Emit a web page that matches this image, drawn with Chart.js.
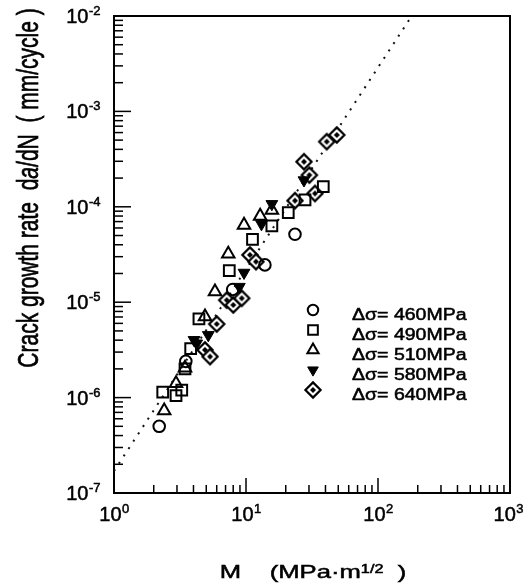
<!DOCTYPE html>
<html>
<head>
<meta charset="utf-8">
<script src="https://cdn.jsdelivr.net/npm/chart.js@4.4.1/dist/chart.umd.min.js"></script>
<style>
  html, body { margin: 0; padding: 0; background: #fff; }
  canvas { display: block; }
</style>
</head>
<body>
<canvas id="c" width="524" height="588" style="width:524px;height:588px"></canvas>
<script>
// ---------------- data ----------------
const seriesLabels = ['Δσ= 460MPa', 'Δσ= 490MPa', 'Δσ= 510MPa', 'Δσ= 580MPa', 'Δσ= 640MPa'];

const m460 = [2.2, 3.5, 7.93, 13.9, 23.5];
const r460 = [5.0e-7, 2.4e-6, 1.36e-5, 2.46e-5, 5.15e-5];

const m490 = [2.34, 2.95, 3.26, 3.45, 3.81, 4.40, 7.47, 11.2, 15.7, 20.9, 28.0, 38.5];
const r490 = [1.14e-6, 1.05e-6, 1.2e-6, 2.0e-6, 3.26e-6, 6.7e-6, 2.14e-5, 4.56e-5, 6.3e-5, 8.67e-5, 1.18e-4, 1.63e-4];

const m510 = [2.40, 2.95, 3.45, 4.89, 5.82, 7.34, 9.66, 12.8, 15.7];
const r510 = [7.3e-7, 1.41e-6, 2.05e-6, 7.05e-6, 1.29e-5, 3.2e-5, 6.44e-5, 8.0e-5, 9.25e-5];

const m580 = [4.04, 4.23, 5.18, 8.9, 9.66, 13.1, 15.7, 27.5];
const r580 = [4.02e-6, 3.7e-6, 4.53e-6, 1.45e-5, 2.04e-5, 6.6e-5, 1.07e-4, 1.9e-4];

const m640 = [4.89, 5.34, 6.0, 7.14, 8.01, 9.28, 10.7, 11.9, 23.5, 33.3, 27.5, 30.2, 40.9, 48.7];
const r640 = [3.16e-6, 2.69e-6, 5.9e-6, 1.05e-5, 9.35e-6, 1.1e-5, 3.13e-5, 2.66e-5, 1.16e-4, 1.38e-4, 2.97e-4, 2.15e-4, 4.82e-4, 5.66e-4];

const fitLineM = [1, 180];
const fitLineRate = [1.7e-7, 1e-2];

const xTickValues = [1, 10, 100, 1000];
const xTickExps = ['0', '1', '2', '3'];
const yTickValues = [1e-7, 1e-6, 1e-5, 1e-4, 1e-3, 1e-2];
const yTickExps = ['-7', '-6', '-5', '-4', '-3', '-2'];

const xTitleParts = ['M    (MPa·m', '1/2', '  )'];
const yTitleParts = ['Crack growth rate  d', 'a', '/dN  ( mm/cycle )'];

// ---------------- helpers ----------------
const zip = (xs, ys) => xs.map((x, i) => ({ x: x, y: ys[i] }));
const FONT = '"Liberation Sans", Arial, Helvetica, sans-serif';

function diamondImage() {
  const c = document.createElement('canvas');
  c.width = 20; c.height = 20;
  const g = c.getContext('2d');
  const d = (r) => { g.beginPath(); g.moveTo(10, 10 - r); g.lineTo(10 + r, 10); g.lineTo(10, 10 + r); g.lineTo(10 - r, 10); g.closePath(); };
  g.strokeStyle = '#000';
  g.fillStyle = '#fff';
  g.lineWidth = 2.2; d(7.6); g.fill(); g.stroke();
  g.fillStyle = '#000';
  d(3.0); g.fill();
  return c;
}
const diamondImg = diamondImage();

const baseOpen = { backgroundColor: 'rgba(0,0,0,0)', borderColor: '#000', borderWidth: 2 };

const datasets = [
  Object.assign({ label: seriesLabels[0], data: zip(m460, r460), pointStyle: 'circle', pointRadius: 5.8 }, baseOpen),
  Object.assign({ label: seriesLabels[1], data: zip(m490, r490), pointStyle: 'rect', pointRadius: 7.6 }, baseOpen),
  Object.assign({ label: seriesLabels[2], data: zip(m510, r510), pointStyle: 'triangle', pointRadius: 7.2 }, baseOpen),
  { label: seriesLabels[3], data: zip(m580, r580), pointStyle: 'triangle', rotation: 180, pointRadius: 6.8,
    backgroundColor: '#000', borderColor: '#000', borderWidth: 1 },
  { label: seriesLabels[4], data: zip(m640, r640), pointStyle: diamondImg, pointRadius: 8,
    backgroundColor: '#000', borderColor: '#000', borderWidth: 1 },
  { label: 'fit', data: zip(fitLineM, fitLineRate), showLine: true, pointRadius: 0,
    borderColor: '#111', borderWidth: 2, borderDash: [2, 6.8], fill: false, order: 10 }
];

function drawText(ctx, str, x, y, font, align, hscale) {
  ctx.save();
  ctx.font = font;
  const w = ctx.measureText(str).width * hscale;
  const sx = align === 'center' ? x - w / 2 : align === 'right' ? x - w : x;
  ctx.translate(sx, y);
  ctx.scale(hscale, 1);
  ctx.textAlign = 'left';
  ctx.textBaseline = 'alphabetic';
  ctx.fillText(str, 0, 0);
  ctx.lineWidth = 0.5;
  ctx.strokeStyle = '#000';
  ctx.strokeText(str, 0, 0);
  ctx.restore();
  return w;
}
function textW(ctx, str, font, hscale) {
  ctx.save(); ctx.font = font; const w = ctx.measureText(str).width * hscale; ctx.restore(); return w;
}

const decoPlugin = {
  id: 'deco',
  beforeDatasetsDraw(chart) {
    const ctx = chart.ctx, a = chart.chartArea;
    const xs = chart.scales.x, ys = chart.scales.y;
    ctx.save();
    ctx.strokeStyle = '#000';
    // frame
    ctx.lineWidth = 2;
    ctx.strokeRect(a.left, a.top, a.right - a.left, a.bottom - a.top);
    ctx.lineWidth = 1.5;
    // ticks from the library scales
    xs.ticks.forEach(t => {
      const px = xs.getPixelForValue(t.value);
      const major = Math.abs(Math.log10(t.value) - Math.round(Math.log10(t.value))) < 1e-9;
      const len = major ? 15 : 8;
      ctx.beginPath(); ctx.moveTo(px, a.bottom); ctx.lineTo(px, a.bottom - len); ctx.stroke();
    });
    ys.ticks.forEach(t => {
      const py = ys.getPixelForValue(t.value);
      const major = Math.abs(Math.log10(t.value) - Math.round(Math.log10(t.value))) < 1e-9;
      const len = major ? 17 : 9;
      ctx.beginPath(); ctx.moveTo(a.left, py); ctx.lineTo(a.left + len, py); ctx.stroke();
    });
    ctx.restore();
  },
  afterDraw(chart) {
    const ctx = chart.ctx, a = chart.chartArea;
    const xs = chart.scales.x, ys = chart.scales.y;
    ctx.save();
    ctx.fillStyle = '#000';
    const baseF = '20px ' + FONT, expF = '13px ' + FONT;
    // x tick labels
    xTickValues.forEach((v, i) => {
      const px = xs.getPixelForValue(v);
      const wb = textW(ctx, '10', baseF, 1), we = textW(ctx, xTickExps[i], expF, 1);
      let sx = px - (wb + we) / 2;
      if (sx + wb + we > 523) sx = 523 - wb - we;
      drawText(ctx, '10', sx, a.bottom + 28, baseF, 'left', 1);
      drawText(ctx, xTickExps[i], sx + wb + 0.5, a.bottom + 20, expF, 'left', 1);
    });
    // y tick labels
    yTickValues.forEach((v, i) => {
      const py = ys.getPixelForValue(v);
      const wb = textW(ctx, '10', baseF, 1), we = textW(ctx, yTickExps[i], expF, 1);
      const right = 100;
      const sx = right - wb - we;
      drawText(ctx, '10', sx, py + 7, baseF, 'left', 1);
      drawText(ctx, yTickExps[i], sx + wb + 0.5, py - 1, expF, 'left', 1);
    });
    // x title
    const xf = '19px ' + FONT, xsf = '12px ' + FONT, hs = 1.35;
    const w0 = textW(ctx, xTitleParts[0], xf, hs), w1 = textW(ctx, xTitleParts[1], xsf, hs), w2 = textW(ctx, xTitleParts[2], xf, hs);
    let x0 = (a.left + a.right) / 2 + 1 - (w0 + w1 + w2) / 2;
    const xb = 578;
    drawText(ctx, xTitleParts[0], x0, xb, xf, 'left', hs);
    drawText(ctx, xTitleParts[1], x0 + w0, xb - 5, xsf, 'left', hs);
    drawText(ctx, xTitleParts[2], x0 + w0 + w1, xb, xf, 'left', hs);
    // y title (rotated)
    const yf = '21px ' + FONT, yfi = 'italic 21px ' + FONT;
    ctx.save();
    ctx.translate(30, 188);
    ctx.rotate(-Math.PI / 2);
    ctx.scale(1, 1.4);
    ctx.textBaseline = 'middle';
    ctx.strokeStyle = '#000';
    ctx.lineWidth = 0.5;
    ctx.font = yf; const t0 = ctx.measureText(yTitleParts[0]).width;
    ctx.font = yfi; const t1 = ctx.measureText(yTitleParts[1]).width;
    ctx.font = yf; const t2 = ctx.measureText(yTitleParts[2]).width;
    let s = -(t0 + t1 + t2) / 2;
    ctx.font = yf; ctx.fillText(yTitleParts[0], s, 0); ctx.strokeText(yTitleParts[0], s, 0);
    ctx.font = yfi; ctx.fillText(yTitleParts[1], s + t0, 0); ctx.strokeText(yTitleParts[1], s + t0, 0);
    ctx.font = yf; ctx.fillText(yTitleParts[2], s + t0 + t1, 0); ctx.strokeText(yTitleParts[2], s + t0 + t1, 0);
    ctx.restore();
    // legend, drawn from the dataset styles
    const lf = '16px ' + FONT;
    for (let i = 0; i < 5; i++) {
      const ds = chart.data.datasets[i];
      const my = 310 + 20 * i, ty = my + 10;
      ctx.save();
      ctx.strokeStyle = ds.borderColor; ctx.fillStyle = ds.backgroundColor; ctx.lineWidth = ds.borderWidth;
      Chart.helpers.drawPoint(ctx, { pointStyle: ds.pointStyle, radius: ds.pointRadius * 0.9, rotation: ds.rotation || 0, borderWidth: ds.borderWidth }, 313, my);
      ctx.restore();
      drawText(ctx, ds.label, 352, ty, lf, 'left', 1.22);
    }
    ctx.restore();
  }
};

function logTicks(scale) {
  const out = [];
  const lo = Math.round(Math.log10(scale.min)), hi = Math.round(Math.log10(scale.max));
  for (let e = lo; e <= hi; e++) {
    for (let k = 1; k <= 9; k++) {
      const v = k * Math.pow(10, e);
      if (v >= scale.min * 0.999 && v <= scale.max * 1.001) out.push({ value: v });
    }
  }
  scale.ticks = out;
}

new Chart(document.getElementById('c'), {
  type: 'scatter',
  data: { datasets: datasets },
  options: {
    responsive: false,
    animation: false,
    layout: { padding: { left: 114, right: 14, top: 16, bottom: 95 } },
    scales: {
      x: { type: 'logarithmic', min: 1, max: 1000, afterBuildTicks: logTicks,
           ticks: { display: false }, grid: { display: false, drawTicks: false }, border: { display: false } },
      y: { type: 'logarithmic', min: 1e-7, max: 1e-2, afterBuildTicks: logTicks,
           ticks: { display: false }, grid: { display: false, drawTicks: false }, border: { display: false } }
    },
    plugins: { legend: { display: false }, tooltip: { enabled: false } }
  },
  plugins: [decoPlugin]
});
</script>
</body>
</html>
